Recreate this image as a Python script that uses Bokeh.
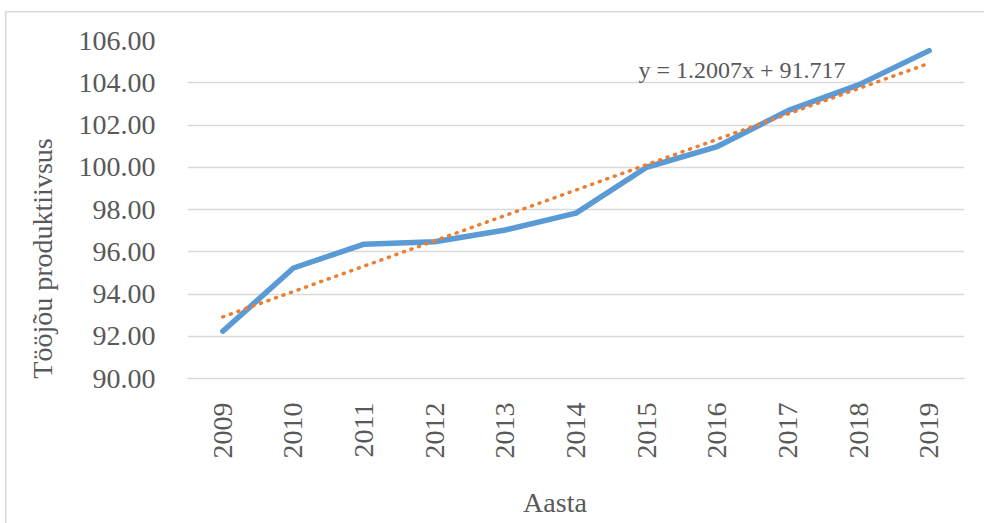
import math
from bokeh.plotting import figure
from bokeh.models import Range1d, FixedTicker, Label, ColumnDataSource, NumeralTickFormatter
from bokeh.embed import file_html
from bokeh.resources import INLINE

# ---- data ----
years = [2009, 2010, 2011, 2012, 2013, 2014, 2015, 2016, 2017, 2018, 2019]
productivity = [92.24, 95.23, 96.36, 96.47, 97.03, 97.83, 100.0, 100.98, 102.68, 103.9, 105.52]
y_ticks = [90, 92, 94, 96, 98, 100, 102, 104, 106]
trend_slope = 1.2007
trend_intercept = 91.717
trend_label = "y = 1.2007x + 91.717"
y_title = "Tööjõu produktiivsus"
x_title = "Aasta"

# Excel linear trendline uses x = 1..n
trend = [trend_slope * (i + 1) + trend_intercept for i in range(len(years))]

FONT = "Liberation Serif"
TXT = "#595959"
GRID = "#D9D9D9"
NB = "\u00a0"

p = figure(width=984, height=523, output_backend="svg", toolbar_location=None,
           x_range=Range1d(years[0] - 0.5, years[-1] + 0.5),
           y_range=Range1d(y_ticks[0], y_ticks[-1]),
           min_border_left=187, min_border_right=20,
           min_border_top=40, min_border_bottom=145)
p.outline_line_color = None
p.background_fill_color = "white"
p.border_fill_color = None
p.styles = {
    "background-color": "white",
    "background-image": "linear-gradient(#D9D9D9, #D9D9D9), linear-gradient(#D9D9D9, #D9D9D9)",
    "background-size": "1.5px 100%, 100% 1.5px",
    "background-position": "5px 11px, 5px 11px",
    "background-repeat": "no-repeat",
}

src = ColumnDataSource(dict(x=years, y=productivity, t=trend))

p.line("x", "y", source=src, line_color="#5B9BD5", line_width=5.5,
       line_cap="round", line_join="round")
p.line("x", "t", source=src, line_color="#ED7D31", line_width=3.5,
       line_dash="1 7", line_cap="round")

# axes
p.yaxis.ticker = FixedTicker(ticks=y_ticks)
p.yaxis.formatter = NumeralTickFormatter(format="0.00")
p.xaxis.ticker = FixedTicker(ticks=years)
for ax in (p.xaxis, p.yaxis):
    ax.axis_line_color = None
    ax.major_tick_line_color = None
    ax.minor_tick_line_color = None
    ax.major_label_text_font = FONT
    ax.major_label_text_font_size = "28px"
    ax.major_label_text_color = TXT
    ax.axis_label_text_font = FONT
    ax.axis_label_text_font_size = "28px"
    ax.axis_label_text_color = TXT
    ax.axis_label_text_font_style = "normal"
p.xaxis.axis_line_color = GRID
p.xaxis.axis_line_width = 1.5
p.yaxis.major_label_standoff = 26
p.xaxis.major_label_standoff = 18
p.xaxis.major_label_orientation = math.pi / 2

# axis titles (padded to shift off the frame centre like the reference)
p.yaxis.axis_label = y_title + NB * 14
p.yaxis.axis_label_standoff = 18
p.xaxis.axis_label = x_title + NB * 6
p.xaxis.axis_label_standoff = 25

p.xgrid.grid_line_color = None
p.ygrid.grid_line_color = GRID
p.ygrid.grid_line_width = 1.5

# trendline equation
p.add_layout(Label(x=2014.885, y=104.62, text=trend_label,
                   text_align="left", text_baseline="alphabetic",
                   text_font=FONT, text_font_size="24px", text_color=TXT))

open("out.html", "w").write(file_html(p, INLINE))
